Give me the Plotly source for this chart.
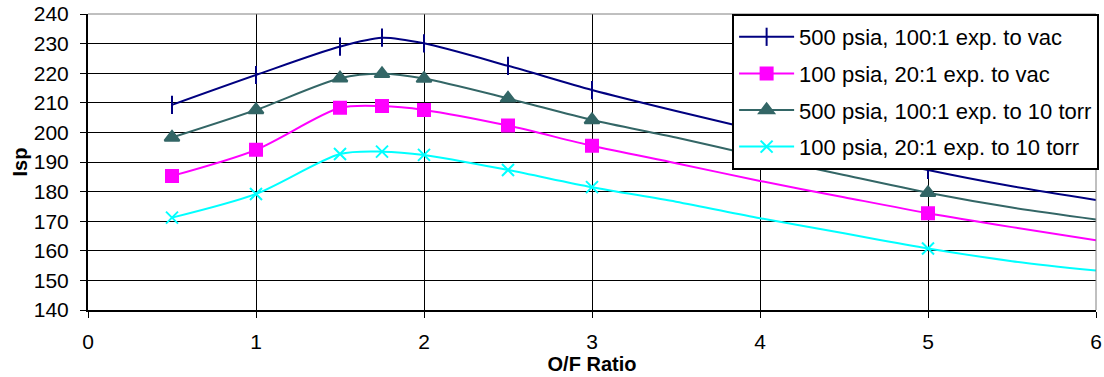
import plotly.graph_objects as go

# ---- data ----
x_line = [0.5, 1, 1.5, 1.75, 2, 2.5, 3, 3.5, 4, 4.5, 5, 5.5, 6]
x_marks = [0.5, 1, 1.5, 1.75, 2, 2.5, 3, 5]

isp_500_vac = [209.3, 219.4, 229.0, 232.0, 230.1, 222.5, 214.3, 207.2, 200.5, 193.8, 187.3, 181.8, 177.2]
isp_100_vac = [185.3, 194.1, 208.3, 208.9, 207.6, 202.3, 195.5, 189.6, 183.6, 178.1, 172.7, 168.0, 163.6]
isp_500_torr = [198.3, 207.6, 218.3, 219.8, 218.2, 211.5, 204.2, 198.3, 191.8, 185.6, 179.6, 174.6, 170.6]
isp_100_torr = [171.2, 179.2, 192.7, 193.5, 192.4, 187.3, 181.5, 176.6, 171.0, 165.9, 160.8, 156.5, 153.3]

series_names = [
    "500 psia, 100:1 exp. to vac",
    "100 psia, 20:1 exp. to vac",
    "500 psia, 100:1 exp. to 10 torr",
    "100 psia, 20:1 exp. to 10 torr",
]
series_values = [isp_500_vac, isp_100_vac, isp_500_torr, isp_100_torr]
series_colors = ["#000080", "#FF00FF", "#336666", "#00FFFF"]
series_symbols = ["line-ns", "square", "triangle-up", "x-thin"]
series_sizes = [13, 12, 13, 12]

x_ticks = [0, 1, 2, 3, 4, 5, 6]
y_ticks = [140, 150, 160, 170, 180, 190, 200, 210, 220, 230, 240]

FONT = "Liberation Sans"

fig = go.Figure()
for i, (name, vals, col, sym, sz) in enumerate(
        zip(series_names, series_values, series_colors, series_symbols, series_sizes)):
    grp = "g%d" % i
    marker = dict(symbol=sym, size=sz, color=col, line=dict(color=col, width=2))
    fig.add_trace(go.Scatter(
        x=x_line, y=vals, mode="lines", line=dict(color=col, width=2, shape="spline", smoothing=0.8),
        legendgroup=grp, showlegend=False, hoverinfo="skip"))
    my = [vals[x_line.index(xv)] for xv in x_marks]
    fig.add_trace(go.Scatter(
        x=x_marks, y=my, mode="markers", marker=marker,
        legendgroup=grp, showlegend=False, cliponaxis=False))
    fig.add_trace(go.Scatter(
        x=[None], y=[None], mode="lines+markers", name=name,
        line=dict(color=col, width=2), marker=marker, legendgroup=grp, showlegend=True))

fig.update_layout(
    width=1104, height=377,
    margin=dict(l=88, r=8, t=14, b=67, autoexpand=False),
    paper_bgcolor="white", plot_bgcolor="white",
    font=dict(family=FONT, size=21, color="black"),
    showlegend=True,
    legend=dict(
        x=0.639, y=1.0, xanchor="left", yanchor="top",
        bgcolor="white", bordercolor="black", borderwidth=2,
        font=dict(family=FONT, size=22, color="black"),
        itemwidth=55, tracegroupgap=5, traceorder="grouped",
    ),
    xaxis=dict(
        range=[0, 6], tickvals=x_ticks, ticktext=[str(v) for v in x_ticks],
        showgrid=True, gridcolor="black", gridwidth=1,
        showline=True, linecolor="black", linewidth=2,
        ticks="outside", ticklen=6, tickcolor="black", tickwidth=1,
        ticklabelstandoff=6, automargin=False,
        zeroline=False,
        title=dict(text="<b>O/F Ratio</b>", font=dict(family=FONT, size=20), standoff=0),
    ),
    yaxis=dict(
        range=[140, 240], tickvals=y_ticks,
        showgrid=True, gridcolor="black", gridwidth=1,
        showline=True, linecolor="black", linewidth=2,
        ticks="outside", ticklen=6, tickcolor="black", tickwidth=1,
        ticklabelstandoff=7, automargin=False,
        zeroline=False,
        title=dict(text="<b>Isp</b>", font=dict(family=FONT, size=20), standoff=1),
    ),
    shapes=[
        dict(type="line", xref="paper", yref="paper", x0=0, x1=1, y0=1, y1=1,
             line=dict(color="#808080", width=1), layer="above"),
        dict(type="line", xref="paper", yref="paper", x0=1, x1=1, y0=0, y1=1,
             line=dict(color="#808080", width=1), layer="above"),
    ],
)

fig.write_html("out.html", config={"displayModeBar": False},
               post_script="document.body.style.margin='0';")
